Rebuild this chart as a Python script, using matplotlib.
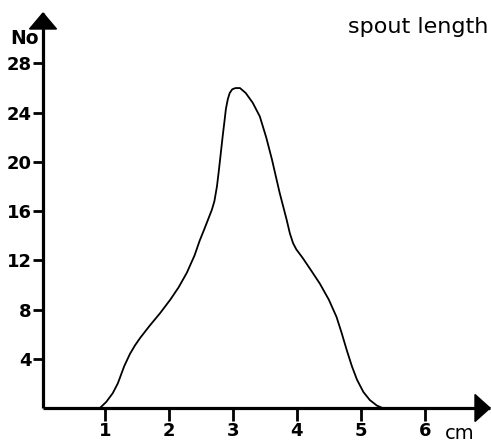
import matplotlib
matplotlib.use("Agg")
import matplotlib.pyplot as plt
from matplotlib.patches import Polygon
from matplotlib.transforms import ScaledTranslation

# data
length_cm = [0.92, 1.02, 1.12, 1.20, 1.30, 1.39, 1.47, 1.55, 1.70, 1.86, 2.02, 2.15, 2.28,
             2.40, 2.48, 2.55, 2.61, 2.67, 2.71, 2.75, 2.78, 2.81, 2.84, 2.87, 2.89, 2.92,
             2.95, 2.99, 3.04, 3.11, 3.20, 3.31, 3.42, 3.52, 3.61, 3.73, 3.84, 3.89, 3.94,
             3.99, 4.09, 4.22, 4.36, 4.50, 4.62, 4.70, 4.78, 4.86, 4.94, 5.04, 5.14, 5.25,
             5.34]
count = [0.0, 0.5, 1.2, 2.0, 3.4, 4.4, 5.1, 5.7, 6.7, 7.7, 8.8, 9.8, 11.0,
         12.4, 13.6, 14.5, 15.3, 16.1, 16.8, 18.0, 19.3, 20.7, 22.1, 23.4, 24.3, 25.1,
         25.6, 25.9, 26.0, 26.0, 25.6, 24.8, 23.7, 22.0, 20.2, 17.5, 15.3, 14.2, 13.4,
         12.9, 12.2, 11.2, 10.1, 8.8, 7.4, 6.1, 4.7, 3.4, 2.3, 1.3, 0.65, 0.2,
         0.0]
x_ticks = [1, 2, 3, 4, 5, 6]
y_ticks = [4, 8, 12, 16, 20, 24, 28]

W, H = 491, 444
DPI = 100
fig = plt.figure(figsize=(W / DPI, H / DPI), dpi=DPI)
ax = fig.add_axes([43 / W, (H - 408) / H, 447 / W, 395 / H])
ax.set_xlim(0.03, 7.02)
ax.set_ylim(0, 32.1)

ax.plot(length_cm, count, color="black", lw=1.3, solid_capstyle="round",
        solid_joinstyle="round")

for s in ["top", "right"]:
    ax.spines[s].set_visible(False)
for s in ["left", "bottom"]:
    ax.spines[s].set_linewidth(2.3)
    ax.spines[s].set_capstyle("butt")

ax.set_xticks(x_ticks)
ax.set_xticklabels([str(v) for v in x_ticks])
ax.set_yticks(y_ticks)
ax.set_yticklabels([str(v) for v in y_ticks])
ax.tick_params(axis="x", direction="out", length=9, width=2, pad=1,
               labelsize=13)
ax.tick_params(axis="y", direction="out", length=7.5, width=2, pad=0.5,
               labelsize=13)
for lab in ax.get_xticklabels() + ax.get_yticklabels():
    lab.set_fontweight("bold")

# arrow heads (pixels -> inches)
def arrow(anchor, verts_px):
    tr = fig.dpi_scale_trans + ScaledTranslation(anchor[0], anchor[1], ax.transAxes)
    v = [(a / DPI, b / DPI) for a, b in verts_px]
    ax.add_patch(Polygon(v, closed=True, transform=tr, color="black",
                         clip_on=False, zorder=5))

arrow((0, 1), [(-13.5, -16), (13.5, -16), (0, 0)])
arrow((1, 0), [(-15, -13.5), (-15, 13.5), (0, 0)])

fig.text(24 / W, 1 - 38 / H, "No", ha="center", va="center",
         fontsize=13.5, fontweight="bold")
fig.text(488 / W, 1 - 27 / H, "spout length", ha="right", va="center",
         fontsize=16)
fig.text(460 / W, 1 - 433 / H, "cm", ha="center", va="center",
         fontsize=14)

fig.savefig("out.png", dpi=DPI)
